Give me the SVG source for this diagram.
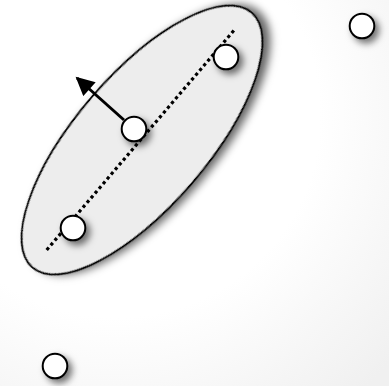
<svg xmlns="http://www.w3.org/2000/svg" width="389" height="386" viewBox="0 0 389 386">
  <defs>
    <radialGradient id="bg" cx="0.3" cy="0.3" r="0.95">
      <stop offset="0.55" stop-color="#ffffff"/>
      <stop offset="1" stop-color="#f0f0f0"/>
    </radialGradient>
    <filter id="shadow" x="-30%" y="-30%" width="170%" height="170%">
      <feDropShadow dx="5" dy="5" stdDeviation="4.5" flood-color="#000" flood-opacity="0.6"/>
    </filter>
    <filter id="shadowSm" x="-60%" y="-60%" width="240%" height="240%">
      <feDropShadow dx="4" dy="4" stdDeviation="3.5" flood-color="#000" flood-opacity="0.55"/>
    </filter>
    <marker id="head" viewBox="0 0 10 10" refX="9" refY="5" markerWidth="6.8" markerHeight="6.2" orient="auto" markerUnits="strokeWidth">
      <path d="M0,0 L10,5 L0,10 z" fill="#000"/>
    </marker>
  </defs>
  <style>
    .pt { fill: #ffffff; stroke: #000; stroke-width: 2; filter: url(#shadowSm); }
    .axis { fill: none; stroke: #000; stroke-width: 3.2; stroke-dasharray: 3.2 3; }
    .arrow { fill: none; stroke: #000; stroke-width: 3; marker-end: url(#head); }
  </style>
  <rect x="0" y="0" width="389" height="386" fill="url(#bg)"/>

  <g id="cluster">
    <ellipse cx="142" cy="140" rx="168" ry="66" transform="rotate(-49.3 142 140)" fill="#ededed" stroke="#000" stroke-width="2" filter="url(#shadow)"/>
  </g>

  <g id="connectors">
    <line class="axis" x1="46.7" y1="250" x2="235.7" y2="28.3"/>
    <line class="arrow" x1="124" y1="120" x2="77" y2="78"/>
  </g>

  <g id="p1"><circle class="pt" cx="226" cy="57" r="12.3"/></g>
  <g id="p2"><circle class="pt" cx="134" cy="129" r="12.3"/></g>
  <g id="p3"><circle class="pt" cx="73" cy="228" r="12.3"/></g>
  <g id="p4"><circle class="pt" cx="362" cy="26" r="12.3"/></g>
  <g id="p5"><circle class="pt" cx="55" cy="366" r="12.3"/></g>
</svg>
